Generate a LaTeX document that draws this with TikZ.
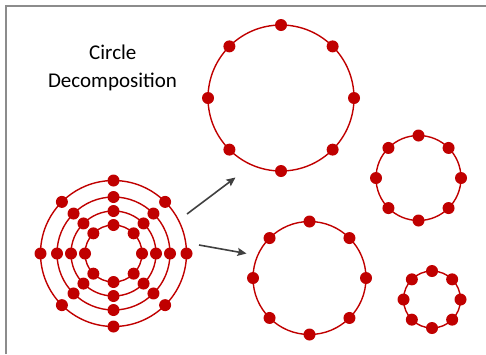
\documentclass[tikz,border=0pt]{standalone}
\usepackage{fontspec}
\setmainfont{Carlito}
\usepackage{xcolor}
\usetikzlibrary{arrows.meta}
\definecolor{dotred}{HTML}{C00000}
\definecolor{arrowgray}{HTML}{404040}
\definecolor{framegray}{HTML}{8C8C8C}

\begin{document}
\begin{tikzpicture}[x=1pt,y=-1pt,
    ring/.style={draw=dotred, line width=1.4pt},
    dot/.style={fill=dotred},
    decomp/.style={draw=arrowgray, line width=1.6pt, -{Stealth[length=9pt,width=8pt,inset=1.5pt]}},
    title/.style={anchor=base, font=\fontsize{21}{25}\selectfont, text=black}]
    \def\rdot{6pt}
    \useasboundingbox (0,0) rectangle (486,354);

    % frame
    \draw[framegray, line width=1.8pt] (6,354) -- (6,6) -- (486,6);

    % title
    \node[title] (cap1) at (112.8,59.3) {Circle};
    \node[title] (cap2) at (112.5,87.3) {Decomposition};

    % concentric rings
    \coordinate (mix) at (113.5,253.5);
    \foreach \r in {73,56.5,42.5,28.5} {
        \draw[ring] (mix) circle (\r pt);
        \foreach \a in {0,45,...,315}
            \fill[dot] (mix) ++(\a:\r pt) circle (\rdot);
    }

    % separated rings
    \foreach \n/\cx/\cy/\r in {big/281/98/73, mid/309.5/278/56.5, small/418.5/178/42.5, tiny/432/299.5/28.5} {
        \coordinate (\n) at (\cx,\cy);
        \draw[ring] (\n) circle (\r pt);
        \foreach \a in {0,45,...,315}
            \fill[dot] (\n) ++(\a:\r pt) circle (\rdot);
    }

    % arrows
    \coordinate (a1s) at (187,214);
    \coordinate (a1e) at (235.5,177.5);
    \coordinate (a2s) at (199,245);
    \coordinate (a2e) at (246.5,253.5);
    \draw[decomp] (a1s) -- (a1e);
    \draw[decomp] (a2s) -- (a2e);
\end{tikzpicture}
\end{document}
